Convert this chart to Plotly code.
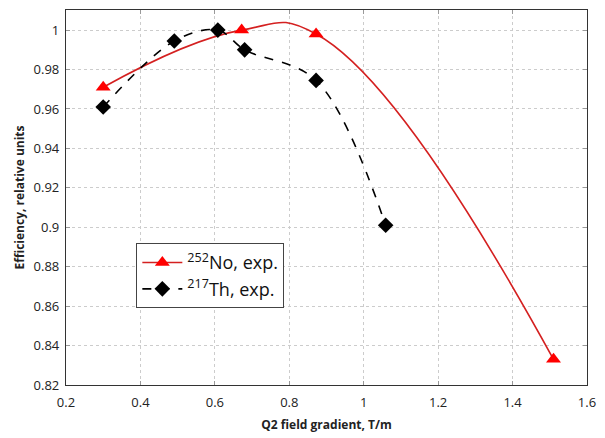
import plotly.graph_objects as go

# Measured transmission efficiency vs. Q2 field gradient
no_gradient = [0.30, 0.672, 0.872, 1.51]
no_efficiency = [0.971, 1.0, 0.998, 0.833]

th_gradient = [0.30, 0.491, 0.608, 0.68, 0.872, 1.059]
th_efficiency = [0.961, 0.9945, 1.0, 0.990, 0.9745, 0.901]

x_ticks = [0.2, 0.4, 0.6, 0.8, 1.0, 1.2, 1.4, 1.6]
x_tick_text = ["0.2", "0.4", "0.6", "0.8", "1", "1.2", "1.4", "1.6"]
y_ticks = [0.82, 0.84, 0.86, 0.88, 0.90, 0.92, 0.94, 0.96, 0.98, 1.0]
y_tick_text = ["0.82", "0.84", "0.86", "0.88", "0.9", "0.92", "0.94", "0.96", "0.98", "1"]

FONT = "Open Sans"

fig = go.Figure()
fig.add_trace(go.Scatter(
    x=no_gradient, y=no_efficiency, mode="lines+markers",
    name="<sup>252</sup>No, exp.",
    line=dict(color="#d42020", width=1.6, shape="spline", smoothing=1.3),
    marker=dict(symbol="triangle-up", size=13, color="#ff0000"),
))
fig.add_trace(go.Scatter(
    x=th_gradient, y=th_efficiency, mode="lines+markers",
    name="<sup>217</sup>Th, exp.",
    line=dict(color="black", width=1.6, dash="dash", shape="spline", smoothing=1.0),
    marker=dict(symbol="diamond", size=12, color="black"),
))

axis_common = dict(
    showline=True, linecolor="#333333", linewidth=1.2, mirror="ticks",
    ticks="inside", ticklen=4, tickcolor="#999999",
    showgrid=True, gridcolor="#cccccc", griddash="dot", gridwidth=1,
    zeroline=False,
    tickfont=dict(family=FONT, size=13, color="#222222"),
)

fig.update_xaxes(
    range=[0.2, 1.6], tickvals=x_ticks, ticktext=x_tick_text,
    ticklabelstandoff=5,
    title=dict(text="<b>Q2 field gradient, T/m</b>", font=dict(family=FONT, size=12, color="#222222"), standoff=10),
    **axis_common,
)
fig.update_yaxes(
    range=[0.82, 1.0102], tickvals=y_ticks, ticktext=y_tick_text,
    ticklabelstandoff=3,
    title=dict(text="<b>Efficiency, relative units</b>", font=dict(family=FONT, size=12, color="#222222"), standoff=6),
    **axis_common,
)

fig.update_layout(
    width=605, height=438,
    margin=dict(l=66, r=12, t=9, b=53),
    paper_bgcolor="white", plot_bgcolor="white",
    font=dict(family=FONT),
    legend=dict(
        x=0.135, y=0.378, xanchor="left", yanchor="top",
        bgcolor="white", bordercolor="#444444", borderwidth=1,
        font=dict(family=FONT, size=18, color="#111111"),
        itemwidth=40, tracegroupgap=0,
    ),
    showlegend=True,
)

fig.write_html("out.html")
